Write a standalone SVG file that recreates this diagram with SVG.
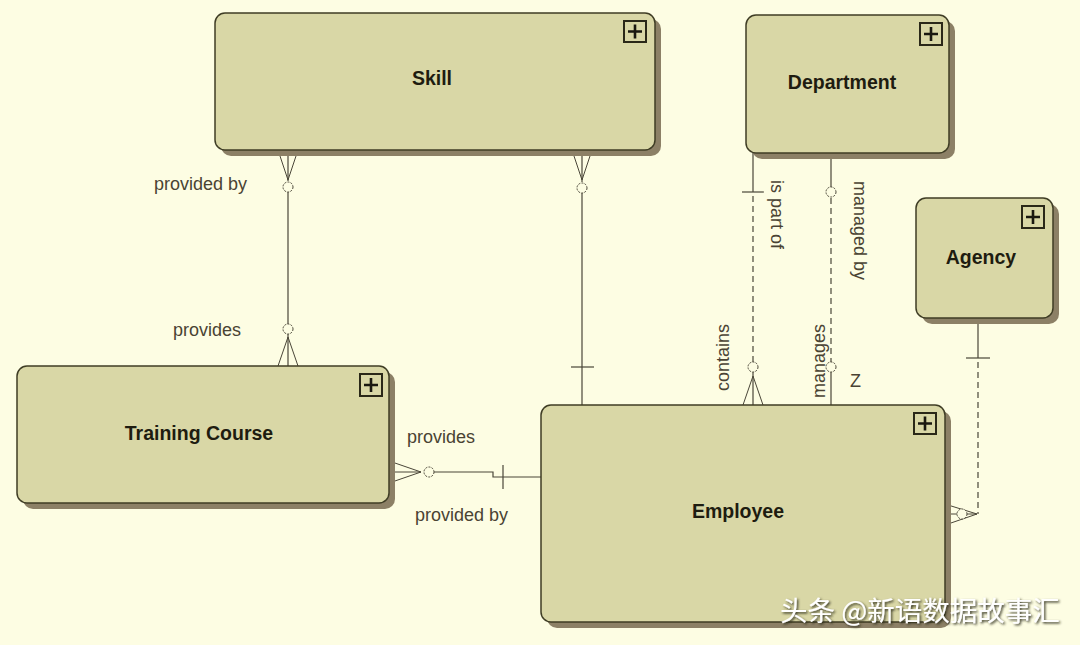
<svg xmlns="http://www.w3.org/2000/svg" width="1080" height="645" viewBox="0 0 1080 645">
<defs>
<style>
.shadow{fill:#8c8066;}
.box{fill:#d9d7a6;stroke:#3f3d25;stroke-width:1.5;}
.title{font-family:"Liberation Sans",Arial,sans-serif;font-weight:bold;font-size:19.5px;fill:#1e1c10;text-anchor:middle;dominant-baseline:central;}
.lbl{font-family:"Liberation Sans",Arial,sans-serif;font-size:18px;fill:#4a4333;}
.ico{fill:none;stroke:#2a2818;stroke-width:2;}
.icop{stroke:#1a1810;stroke-width:2.6;}
.ln{fill:none;stroke:#4a4638;stroke-width:1.2;}
.dash{fill:none;stroke:#4a4638;stroke-width:1.2;stroke-dasharray:6 4;}
.cf{fill:none;stroke:#4a4638;stroke-width:1;}
.circ{fill:#fdfde3;stroke:#4a4638;stroke-width:1;stroke-dasharray:2 1.2;}
.wm{font-family:"Noto Sans CJK SC","Noto Sans",sans-serif;font-size:27.5px;fill:#ffffff;}
</style>
<filter id="ds" x="-5%" y="-30%" width="110%" height="160%">
<feDropShadow dx="1.5" dy="1.5" stdDeviation="1" flood-color="#2a2618" flood-opacity="0.9"/>
</filter>
</defs>
<rect x="0" y="0" width="1080" height="645" fill="#fdfde3"/>

<g id="connectors">
<!-- Skill - Training Course -->
<line class="ln" x1="288" y1="150" x2="288" y2="181"/>
<path class="cf" d="M278,150 L288,180 L298,150"/>
<circle class="circ" cx="288" cy="187" r="5"/>
<line class="ln" x1="288" y1="192" x2="288" y2="324"/>
<circle class="circ" cx="288" cy="329" r="5"/>
<line class="ln" x1="288" y1="334" x2="288" y2="366"/>
<path class="cf" d="M278,366 L288,337 L298,366"/>
<!-- Skill - Employee -->
<line class="ln" x1="582" y1="150" x2="582" y2="182"/>
<path class="cf" d="M572,150 L582,180 L592,150"/>
<circle class="circ" cx="582" cy="188" r="5"/>
<line class="ln" x1="582" y1="193" x2="582" y2="405"/>
<line class="ln" x1="571" y1="367" x2="594" y2="367"/>
<!-- Training Course - Employee -->
<path class="cf" d="M392,462 L421,472 L392,482"/>
<line class="cf" x1="392" y1="472" x2="421" y2="472"/>
<circle class="circ" cx="429" cy="472" r="5"/>
<path class="ln" d="M434,472 L493,472 L493,477 L541,477"/>
<line class="ln" x1="503" y1="465" x2="503" y2="489"/>
<!-- Department - Employee (is part of / contains) -->
<line class="ln" x1="753" y1="153" x2="753" y2="192"/>
<line class="ln" x1="742" y1="192" x2="764" y2="192"/>
<line class="dash" x1="753" y1="196" x2="753" y2="362"/>
<circle class="circ" cx="753" cy="367" r="5"/>
<line class="ln" x1="753" y1="372" x2="753" y2="405"/>
<path class="cf" d="M743,405 L753,376 L763,405"/>
<!-- Department - Employee (managed by / manages) -->
<line class="ln" x1="831" y1="153" x2="831" y2="187"/>
<circle class="circ" cx="831" cy="192" r="5"/>
<line class="dash" x1="831" y1="198" x2="831" y2="362"/>
<circle class="circ" cx="831" cy="367" r="5"/>
<line class="ln" x1="831" y1="372" x2="831" y2="405"/>
<!-- Agency - Employee -->
<line class="ln" x1="978" y1="318" x2="978" y2="358"/>
<line class="ln" x1="966" y1="358" x2="990" y2="358"/>
<line class="dash" x1="978" y1="362" x2="978" y2="514"/>
<path class="cf" d="M948,505 L977,514 L948,524"/>
<line class="cf" x1="948" y1="514" x2="977" y2="514"/>
<circle class="circ" cx="962" cy="514" r="5"/>
</g>

<g id="labels">
<text class="lbl" x="154" y="190">provided by</text>
<text class="lbl" x="173" y="336">provides</text>
<text class="lbl" x="407" y="443">provides</text>
<text class="lbl" x="415" y="521">provided by</text>
<text class="lbl" transform="translate(771,180) rotate(90)">is part of</text>
<text class="lbl" transform="translate(854,181) rotate(90)">managed by</text>
<text class="lbl" transform="translate(729,391) rotate(-90)">contains</text>
<text class="lbl" transform="translate(825,398) rotate(-90)">manages</text>
<text class="lbl" x="850" y="387">Z</text>
</g>

<g id="skill">
<rect class="shadow" x="221" y="19" width="440" height="137" rx="10"/>
<rect class="box" x="215" y="13" width="440" height="137" rx="10"/>
<rect class="ico" x="624" y="21" width="22" height="21"/>
<path class="icop" d="M628,31.5 H642 M635,24.5 V38.5"/>
<text class="title" x="432" y="78">Skill</text>
</g>

<g id="department">
<rect class="shadow" x="752" y="21" width="203" height="138" rx="10"/>
<rect class="box" x="746" y="15" width="203" height="138" rx="10"/>
<rect class="ico" x="920" y="23" width="22" height="22"/>
<path class="icop" d="M924,34 H938 M931,27 V41"/>
<text class="title" x="842" y="82">Department</text>
</g>

<g id="agency">
<rect class="shadow" x="922" y="204" width="137" height="120" rx="10"/>
<rect class="box" x="916" y="198" width="137" height="120" rx="10"/>
<rect class="ico" x="1022" y="206" width="22" height="22"/>
<path class="icop" d="M1026,217 H1040 M1033,210 V224"/>
<text class="title" x="981" y="257">Agency</text>
</g>

<g id="training-course">
<rect class="shadow" x="23" y="372" width="372" height="137" rx="10"/>
<rect class="box" x="17" y="366" width="372" height="137" rx="10"/>
<rect class="ico" x="360" y="374" width="22" height="22"/>
<path class="icop" d="M364,385 H378 M371,378 V392"/>
<text class="title" x="199" y="433">Training Course</text>
</g>

<g id="employee">
<rect class="shadow" x="547" y="411" width="404" height="217" rx="10"/>
<rect class="box" x="541" y="405" width="404" height="217" rx="10"/>
<rect class="ico" x="914" y="413" width="22" height="21"/>
<path class="icop" d="M918,423.5 H932 M925,416.5 V430.5"/>
<text class="title" x="738" y="511">Employee</text>
</g>

<text class="wm" x="780" y="621" filter="url(#ds)">头条 @新语数据故事汇</text>
</svg>
